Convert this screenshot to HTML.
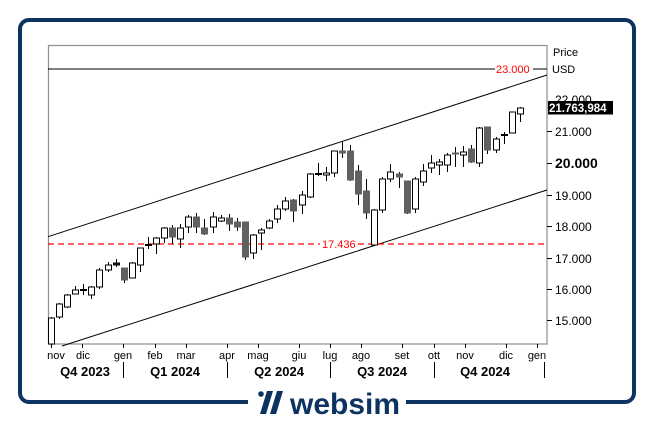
<!DOCTYPE html>
<html><head><meta charset="utf-8"><style>
html,body{margin:0;padding:0;background:#fff;}
svg{display:block;font-family:"Liberation Sans",Arial,sans-serif;}
</style></head><body>
<svg width="654" height="423" viewBox="0 0 654 423" xmlns="http://www.w3.org/2000/svg">
<rect x="0" y="0" width="654" height="423" fill="#fff"/>
<rect x="20" y="20" width="614" height="382" rx="9" fill="none" stroke="#0d3461" stroke-width="4"/>
<!-- logo -->
<rect x="248" y="392" width="158" height="28" fill="#fff"/>
<circle cx="261" cy="394" r="2.8" fill="#0d3461"/>
<polygon points="267,391 273,391 266,414 260,414" fill="#0d3461"/>
<polygon points="277,391 283,391 276,414 270,414" fill="#0d3461"/>
<text x="290" y="414" font-size="30" font-weight="bold" fill="#0d3461" font-family="Liberation Sans,Arial,sans-serif">websim</text>

<!-- plot area -->
<rect x="48.5" y="45.5" width="498.5" height="298.5" fill="none" stroke="#8c8c9a" stroke-width="1.2"/>
<!-- 23000 line -->
<line x1="48" y1="69" x2="495" y2="69" stroke="#000" stroke-width="1"/>
<line x1="533" y1="69" x2="547" y2="69" stroke="#000" stroke-width="1"/>
<text x="496" y="73" font-size="11" fill="#ff0000">23.000</text>
<text x="552" y="73" font-size="11" fill="#000">USD</text>
<text x="553" y="56" font-size="11" fill="#000">Price</text>
<!-- channel -->
<line x1="48" y1="236.7" x2="547" y2="75" stroke="#000" stroke-width="1"/>
<line x1="62" y1="346" x2="547" y2="190" stroke="#000" stroke-width="1"/>
<!-- support dashed -->
<line x1="48" y1="244" x2="547" y2="244" stroke="#ff0000" stroke-width="1.2" stroke-dasharray="6,4"/>
<rect x="320" y="237" width="37" height="14" fill="#fff"/>
<text x="322" y="248" font-size="11" fill="#ff0000">17.436</text>

<!-- candles -->
<g stroke="#000" stroke-width="1">
<line x1="51.5" y1="317" x2="51.5" y2="344"/><rect x="48.5" y="318" width="6" height="26" fill="#fff"/>
<line x1="59.5" y1="303" x2="59.5" y2="319"/><rect x="56.5" y="304" width="6" height="13" fill="#fff"/>
<line x1="67.5" y1="294" x2="67.5" y2="308"/><rect x="64.5" y="295" width="6" height="12" fill="#fff"/>
<line x1="75.5" y1="286" x2="75.5" y2="294"/><rect x="72.5" y="290" width="6" height="4" fill="#fff"/>
<line x1="83.5" y1="284" x2="83.5" y2="295"/><rect x="80.5" y="289.5" width="6" height="1" fill="#fff"/>
<line x1="91.5" y1="286" x2="91.5" y2="299"/><rect x="88.5" y="287" width="6" height="8" fill="#fff"/>
<line x1="99.5" y1="268" x2="99.5" y2="289"/><rect x="96.5" y="270" width="6" height="17" fill="#fff"/>
<line x1="108.5" y1="262" x2="108.5" y2="272"/><rect x="105.5" y="265" width="6" height="5" fill="#fff"/>
<line x1="116.5" y1="259" x2="116.5" y2="267"/><rect x="113.5" y="263" width="6" height="2" fill="#333"/>
<line x1="124.5" y1="268" x2="124.5" y2="283"/><rect x="121.5" y="268" width="6" height="12" fill="#606060" stroke="#606060"/>
<line x1="132.5" y1="262" x2="132.5" y2="278"/><rect x="129.5" y="263" width="6" height="15" fill="#fff"/>
<line x1="140.5" y1="248" x2="140.5" y2="272"/><rect x="137.5" y="248" width="6" height="17" fill="#fff"/>
<line x1="148.5" y1="237" x2="148.5" y2="249"/><rect x="145.5" y="244.5" width="6" height="1" fill="#fff"/>
<line x1="156.5" y1="237" x2="156.5" y2="254"/><rect x="153.5" y="238" width="6" height="6" fill="#fff"/>
<line x1="164.5" y1="227" x2="164.5" y2="243"/><rect x="161.5" y="228" width="6" height="10" fill="#fff"/>
<line x1="172.5" y1="225" x2="172.5" y2="244"/><rect x="169.5" y="228" width="6" height="9" fill="#606060" stroke="#606060"/>
<line x1="180.5" y1="224" x2="180.5" y2="248"/><rect x="177.5" y="228" width="6" height="11" fill="#fff"/>
<line x1="188.5" y1="215" x2="188.5" y2="233"/><rect x="185.5" y="217" width="6" height="10" fill="#fff"/>
<line x1="196.5" y1="213" x2="196.5" y2="233"/><rect x="193.5" y="217" width="6" height="10" fill="#606060" stroke="#606060"/>
<line x1="204.5" y1="219" x2="204.5" y2="235"/><rect x="201.5" y="228" width="6" height="6" fill="#606060" stroke="#606060"/>
<line x1="213.5" y1="212" x2="213.5" y2="233"/><rect x="210.5" y="217" width="6" height="10" fill="#fff"/>
<line x1="221.5" y1="215" x2="221.5" y2="222"/><rect x="218.5" y="218" width="6" height="3" fill="#fff"/>
<line x1="229.5" y1="214" x2="229.5" y2="231"/><rect x="226.5" y="218" width="6" height="6" fill="#606060" stroke="#606060"/>
<line x1="237.5" y1="218" x2="237.5" y2="231"/><rect x="234.5" y="222" width="6" height="5" fill="#606060" stroke="#606060"/>
<line x1="245.5" y1="222" x2="245.5" y2="260"/><rect x="242.5" y="222" width="6" height="35" fill="#606060" stroke="#606060"/>
<line x1="253.5" y1="234" x2="253.5" y2="259"/><rect x="250.5" y="235" width="6" height="18" fill="#fff"/>
<line x1="261.5" y1="228" x2="261.5" y2="250"/><rect x="258.5" y="230" width="6" height="3" fill="#fff"/>
<line x1="269.5" y1="219" x2="269.5" y2="229"/><rect x="266.5" y="221" width="6" height="7" fill="#fff"/>
<line x1="277.5" y1="205" x2="277.5" y2="223"/><rect x="274.5" y="209" width="6" height="10" fill="#fff"/>
<line x1="285.5" y1="197" x2="285.5" y2="211"/><rect x="282.5" y="201" width="6" height="8" fill="#fff"/>
<line x1="293.5" y1="199" x2="293.5" y2="222"/><rect x="290.5" y="200" width="6" height="11" fill="#606060" stroke="#606060"/>
<line x1="302.5" y1="191" x2="302.5" y2="214"/><rect x="299.5" y="195" width="6" height="10" fill="#fff"/>
<line x1="310.5" y1="173" x2="310.5" y2="198"/><rect x="307.5" y="174" width="6" height="23" fill="#fff"/>
<line x1="318.5" y1="163" x2="318.5" y2="176"/><rect x="315.5" y="173.5" width="6" height="1" fill="#fff"/>
<line x1="326.5" y1="167" x2="326.5" y2="181"/><rect x="323.5" y="173" width="6" height="2" fill="#fff"/>
<line x1="334.5" y1="151" x2="334.5" y2="177"/><rect x="331.5" y="151" width="6" height="22" fill="#fff"/>
<line x1="342.5" y1="142" x2="342.5" y2="158"/><rect x="339.5" y="151" width="6" height="2" fill="#606060" stroke="#606060"/>
<line x1="350.5" y1="145" x2="350.5" y2="181"/><rect x="347.5" y="151" width="6" height="29" fill="#606060" stroke="#606060"/>
<line x1="358.5" y1="165" x2="358.5" y2="205"/><rect x="355.5" y="171" width="6" height="23" fill="#606060" stroke="#606060"/>
<line x1="366.5" y1="179" x2="366.5" y2="219"/><rect x="363.5" y="191" width="6" height="22" fill="#606060" stroke="#606060"/>
<line x1="374.5" y1="209" x2="374.5" y2="245"/><rect x="371.5" y="210" width="6" height="35" fill="#fff"/>
<line x1="382.5" y1="177" x2="382.5" y2="213"/><rect x="379.5" y="179" width="6" height="31" fill="#fff"/>
<line x1="390.5" y1="164" x2="390.5" y2="182"/><rect x="387.5" y="172" width="6" height="7" fill="#fff"/>
<line x1="399.5" y1="172" x2="399.5" y2="188"/><rect x="396.5" y="174" width="6" height="3" fill="#606060" stroke="#606060"/>
<line x1="407.5" y1="181" x2="407.5" y2="214"/><rect x="404.5" y="181" width="6" height="32" fill="#606060" stroke="#606060"/>
<line x1="415.5" y1="177" x2="415.5" y2="213"/><rect x="412.5" y="179" width="6" height="30" fill="#fff"/>
<line x1="423.5" y1="164" x2="423.5" y2="186"/><rect x="420.5" y="171" width="6" height="11" fill="#fff"/>
<line x1="431.5" y1="155" x2="431.5" y2="173"/><rect x="428.5" y="163" width="6" height="5" fill="#fff"/>
<line x1="439.5" y1="159" x2="439.5" y2="175"/><rect x="436.5" y="162" width="6" height="3" fill="#fff"/>
<line x1="447.5" y1="153" x2="447.5" y2="172"/><rect x="444.5" y="155" width="6" height="10" fill="#fff"/>
<line x1="455.5" y1="147" x2="455.5" y2="167"/><rect x="452.5" y="153" width="6" height="1" fill="#606060" stroke="#606060"/>
<line x1="463.5" y1="146" x2="463.5" y2="167"/><rect x="460.5" y="152" width="6" height="3" fill="#fff"/>
<line x1="471.5" y1="145" x2="471.5" y2="163"/><rect x="468.5" y="149" width="6" height="13" fill="#606060" stroke="#606060"/>
<line x1="479.5" y1="127" x2="479.5" y2="167"/><rect x="476.5" y="128" width="6" height="35" fill="#fff"/>
<line x1="487.5" y1="127" x2="487.5" y2="154"/><rect x="484.5" y="127" width="6" height="23" fill="#606060" stroke="#606060"/>
<line x1="496.5" y1="137" x2="496.5" y2="153"/><rect x="493.5" y="139" width="6" height="11" fill="#fff"/>
<line x1="504.5" y1="132" x2="504.5" y2="144"/><rect x="501.5" y="134.5" width="6" height="1" fill="#fff"/>
<line x1="512.5" y1="112" x2="512.5" y2="133"/><rect x="509.5" y="112" width="6" height="21" fill="#fff"/>
<line x1="520.5" y1="107" x2="520.5" y2="122"/><rect x="517.5" y="108" width="6" height="6" fill="#fff"/>
</g>

<!-- right axis -->
<g stroke="#000" stroke-width="1">
<line x1="547" y1="131.5" x2="552" y2="131.5"/>
<line x1="547" y1="163.5" x2="552" y2="163.5"/>
<line x1="547" y1="195.5" x2="552" y2="195.5"/>
<line x1="547" y1="226.5" x2="552" y2="226.5"/>
<line x1="547" y1="258.5" x2="552" y2="258.5"/>
<line x1="547" y1="289.5" x2="552" y2="289.5"/>
<line x1="547" y1="320.5" x2="552" y2="320.5"/>
</g>
<g font-size="12" fill="#000">
<text x="555" y="104">22.000</text>
<text x="555" y="136">21.000</text>
<text x="555" y="168" font-size="14" font-weight="bold">20.000</text>
<text x="555" y="200">19.000</text>
<text x="555" y="231">18.000</text>
<text x="555" y="263">17.000</text>
<text x="555" y="294">16.000</text>
<text x="555" y="325">15.000</text>
</g>
<rect x="548" y="101" width="65" height="13.5" fill="#000"/>
<text x="549" y="112" font-size="11.5" font-weight="bold" fill="#fff">21.763,984</text>

<!-- bottom axis -->
<g stroke="#000" stroke-width="1">
<line x1="51.5" y1="344" x2="51.5" y2="348"/><line x1="82.5" y1="344" x2="82.5" y2="348"/>
<line x1="123.5" y1="344" x2="123.5" y2="348"/><line x1="155.5" y1="344" x2="155.5" y2="348"/>
<line x1="186.5" y1="344" x2="186.5" y2="348"/><line x1="227.5" y1="344" x2="227.5" y2="348"/>
<line x1="258.5" y1="344" x2="258.5" y2="348"/><line x1="299.5" y1="344" x2="299.5" y2="348"/>
<line x1="330.5" y1="344" x2="330.5" y2="348"/><line x1="361.5" y1="344" x2="361.5" y2="348"/>
<line x1="402.5" y1="344" x2="402.5" y2="348"/><line x1="434.5" y1="344" x2="434.5" y2="348"/>
<line x1="465.5" y1="344" x2="465.5" y2="348"/><line x1="506.5" y1="344" x2="506.5" y2="348"/>
<line x1="537.5" y1="344" x2="537.5" y2="348"/>
<line x1="123.5" y1="362" x2="123.5" y2="378"/><line x1="227.5" y1="362" x2="227.5" y2="378"/>
<line x1="330.5" y1="362" x2="330.5" y2="378"/><line x1="434.5" y1="362" x2="434.5" y2="378"/>
<line x1="544.5" y1="362" x2="544.5" y2="378"/>
</g>
<g font-size="11" fill="#000" text-anchor="middle">
<text x="56" y="359">nov</text><text x="83" y="359">dic</text><text x="123" y="359">gen</text>
<text x="155" y="359">feb</text><text x="186" y="359">mar</text><text x="227" y="359">apr</text>
<text x="258" y="359">mag</text><text x="299" y="359">giu</text><text x="330" y="359">lug</text>
<text x="361" y="359">ago</text><text x="402" y="359">set</text><text x="434" y="359">ott</text>
<text x="465" y="359">nov</text><text x="506" y="359">dic</text><text x="537" y="359">gen</text>
</g>
<g font-size="13" font-weight="bold" fill="#000" text-anchor="middle">
<text x="85" y="376">Q4 2023</text><text x="175" y="376">Q1 2024</text>
<text x="279" y="376">Q2 2024</text><text x="382" y="376">Q3 2024</text>
<text x="485" y="376">Q4 2024</text>
</g>
</svg>
</body></html>
